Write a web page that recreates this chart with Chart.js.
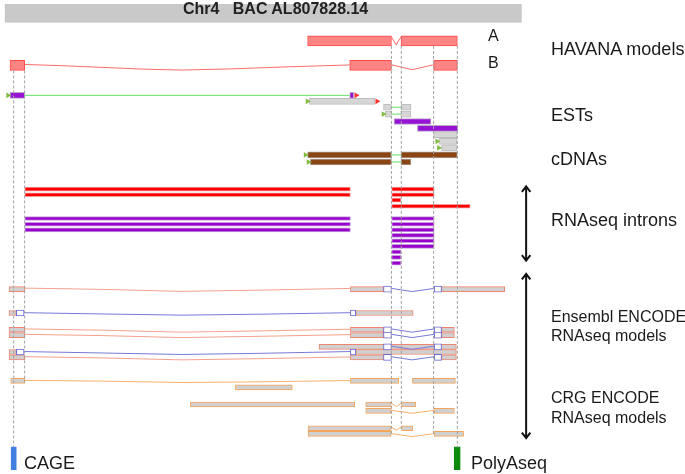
<!DOCTYPE html>
<html>
<head>
<meta charset="utf-8">
<script src="https://cdn.jsdelivr.net/npm/chart.js@4"></script>
<style>
html, body { margin: 0; padding: 0; background: #fff; }
#wrap { position: relative; width: 685px; height: 474px; overflow: hidden; }
#board { position: absolute; left: 0; top: 0; }
.lbl { position: absolute; font-family: "Liberation Sans", Arial, sans-serif; font-size: 18px; line-height: 18px; color: #1a1a1a; white-space: pre; }
.sm { font-size: 16px; line-height: 16px; }
</style>
</head>
<body>
<div id="wrap">
<canvas id="board" width="685" height="474"></canvas>
<div class="lbl" style="left:183px;top:1px;font-size:16px;line-height:16px;font-weight:bold;color:#222;">Chr4   BAC AL807828.14</div>
<div class="lbl" style="left:488px;top:28px;font-size:16px;line-height:16px;">A</div>
<div class="lbl" style="left:488px;top:55px;font-size:16px;line-height:16px;">B</div>
<div class="lbl" style="left:551px;top:40px;">HAVANA models</div>
<div class="lbl" style="left:551px;top:106px;">ESTs</div>
<div class="lbl" style="left:551px;top:150px;">cDNAs</div>
<div class="lbl" style="left:551px;top:211px;">RNAseq introns</div>
<div class="lbl sm" style="left:551px;top:309px;">Ensembl ENCODE</div>
<div class="lbl sm" style="left:551px;top:328px;">RNAseq models</div>
<div class="lbl sm" style="left:551px;top:390px;">CRG ENCODE</div>
<div class="lbl sm" style="left:551px;top:410px;">RNAseq models</div>
<div class="lbl" style="left:24px;top:454px;">CAGE</div>
<div class="lbl" style="left:471px;top:454px;">PolyAseq</div>
</div>
<script>
// positions along the BAC are x, track rows are y (row centre)
// boxes: [start, end, row]   paths: list of [pos, row] points

const headerBar = [[1, 523.6, 9.3]];

const dashX = [9.8, 20.9, 392, 402, 434.7, 458.7];
const dashTop = [67.6, 67.6, 42.6, 42.6, 42.6, 42.6];
const dashBottom = [451, 385, 439, 432.6, 439, 451];

// HAVANA models A and B
const havanaExons = [[307.2, 392, 37.5], [401.7, 458.7, 37.5],
    [6.1, 20.9, 62.5], [349.8, 392, 62.5], [434.7, 458.7, 62.5]];
const havanaIntrons = [
    [[392, 33.5], [396.8, 41.5], [401.7, 33.5]],
    [[20.9, 61.5], [60, 62.8], [100, 64.5], [140, 66.2], [180, 67.2], [230, 66], [290, 63.8], [349.8, 62]],
    [[392, 61.8], [413, 66.8], [434.7, 61.8]]
];

// ESTs and cDNAs
const estPurple = [[6.1, 20.9, 92.9], [349.8, 353.9, 92.9], [394.7, 432, 119.5], [418.3, 459.3, 126.5]];
const estGrey = [[309, 375, 99], [384, 392, 105], [401.7, 411.7, 105], [385.7, 392, 112], [401.7, 411.7, 112],
    [434.7, 458.3, 132.8], [440, 458.3, 139.7], [442.7, 458.3, 146.3]];
const cdnaBoxes = [[307.2, 392, 153.5], [401.7, 458.7, 153.5], [310, 392, 160.7], [401.7, 411.7, 160.7]];
const estLinks = [
    [[20.9, 92.9], [349.8, 92.9]],
    [[392, 105], [401.7, 105]],
    [[392, 112], [401.7, 112]],
    [[392, 153.5], [401.7, 153.5]],
    [[392, 160.7], [401.7, 160.7]]
];
const estStarts = [[4, 92.9], [307, 99], [383.8, 112], [438.3, 139.7], [440, 146.3], [305, 153.5], [308, 160.7]];
const estEnds = [[356.3, 92.9], [377.5, 99]];

// RNAseq introns
const redIntrons = [[21, 350.5, 188.3], [392.3, 435.3, 188.3], [21, 350.5, 194], [392.3, 435.3, 194],
    [392.3, 401.7, 199.5], [392.3, 471.7, 205.7]];
const purpleIntrons = [[21, 350.5, 218.2], [392.3, 435.3, 218.2], [21, 350.5, 224], [392.3, 435.3, 224],
    [21, 350.5, 229.7], [392.3, 435.3, 229.7], [392.3, 435.3, 235.3], [392.3, 435.3, 240.8],
    [392.3, 435.3, 246.5], [392.3, 401.7, 252.2], [392.3, 401.7, 257.8], [392.3, 401.7, 263.5]];

// Ensembl ENCODE RNAseq models
const ensExons = [[5.1, 21, 290], [350.5, 384, 290], [442.7, 506.7, 290],
    [5.1, 12.5, 314.3], [355.9, 414, 314.3],
    [5.1, 21, 331.3], [350.5, 384, 331.3], [442.7, 455.7, 331.3],
    [5.1, 21, 336.8], [350.5, 384, 336.8], [442.7, 455.7, 336.8],
    [318.7, 457.7, 348.8],
    [5.1, 12.5, 354], [355.9, 457.7, 354],
    [5.1, 21, 359.5], [350.5, 384, 359.5], [442.7, 457.7, 359.5]];
const ensCds = [[384, 392, 290], [435.3, 442.7, 290],
    [12.5, 20.3, 314.3], [350.5, 355.9, 314.3],
    [384, 392, 331.3], [435.3, 442.7, 331.3],
    [384, 392, 336.8], [435.3, 442.7, 336.8],
    [384, 392, 348.8], [435.3, 442.7, 348.8],
    [12.5, 20.3, 354], [350.5, 355.9, 354],
    [384, 392, 359.5], [435.3, 442.7, 359.5]];
const ensUtrIntrons = [
    [[21, 289], [100, 290.3], [180, 292.3], [260, 291], [350.5, 289.3]],
    [[21, 330.5], [100, 331.8], [180, 333.8], [260, 332.5], [350.5, 330.8]],
    [[21, 336], [100, 337.3], [180, 339.3], [260, 338], [350.5, 336.3]],
    [[21, 358.7], [100, 360], [180, 362], [260, 360.7], [350.5, 359]]
];
const ensCdsIntrons = [
    [[20.3, 314], [100, 315.3], [180, 316.5], [260, 315.5], [350.5, 314]],
    [[20.3, 353.5], [100, 355], [180, 356.5], [260, 355.3], [350.5, 353.5]],
    [[392, 289.3], [413, 292.5], [435.3, 289.3]],
    [[392, 330.5], [413, 333.8], [435.3, 330.5]],
    [[392, 336], [413, 339.3], [435.3, 336]],
    [[392, 348], [413, 351.3], [435.3, 348]],
    [[392, 358.8], [413, 362], [435.3, 358.8]]
];

// CRG ENCODE RNAseq models
const crgExons = [[6.8, 21, 383.3], [350.5, 399.3, 383.3], [413.3, 456.7, 383.3],
    [234.2, 291.7, 390],
    [188.6, 354.9, 407.4], [366, 391.7, 407.4], [402.3, 416.7, 407.4],
    [366, 391.7, 413.8], [435.3, 455.7, 413.8],
    [307.6, 391.7, 431.5], [402.3, 413.7, 431.5],
    [307.6, 391.7, 437.3], [435.3, 465, 437.3]];
const crgIntrons = [
    [[21, 382.8], [100, 383.6], [180, 385], [260, 384.3], [350.5, 383]],
    [[391.7, 406], [397, 409.3], [402.3, 406]],
    [[391.7, 413.3], [413, 416.3], [435.3, 413.3]],
    [[391.7, 430.3], [397, 433.5], [402.3, 430.3]],
    [[391.7, 437], [413, 440], [435.3, 437]]
];

// CAGE and PolyAseq peaks
const cagePeaks = [[7.3, 12.3, 462.4]];
const polyAPeaks = [[455.6, 461.4, 462.4]];

// section arrows
const arrowLines = [
    [[528.3, 185.5], [528.3, 261]],
    [[524, 191], [528.3, 185.5], [532.6, 191]],
    [[524, 255.5], [528.3, 261], [532.6, 255.5]],
    [[528.3, 274.5], [528.3, 441.5]],
    [[524, 280], [528.3, 274.5], [532.6, 280]],
    [[524, 436], [528.3, 441.5], [532.6, 436]]
];

function toBoxes(list) {
    return list.map(b => ({ x: [b[0], b[1]], y: b[2] }));
}

function toPaths(list) {
    let out = [];
    list.forEach(p => {
        p.forEach(pt => out.push({ x: pt[0], y: pt[1] }));
        out.push({ x: p[p.length - 1][0], y: null });
    });
    return out;
}

function toPoints(list) {
    return list.map(p => ({ x: p[0], y: p[1] }));
}

function boxSet(list, fill, edge, thick, order) {
    return {
        type: 'bar', indexAxis: 'y', grouped: false,
        data: toBoxes(list),
        backgroundColor: fill, borderColor: edge || fill,
        borderWidth: edge ? 1 : 0, borderSkipped: false,
        barThickness: thick, order: order
    };
}

function lineSet(list, colour, width, order, dash) {
    return {
        type: 'line', data: toPaths(list),
        borderColor: colour, borderWidth: width, borderDash: dash || [],
        pointRadius: 0, fill: false, tension: 0, spanGaps: false, order: order
    };
}

function markSet(list, colour, order) {
    return {
        type: 'line', data: toPoints(list), showLine: false,
        pointStyle: 'triangle', pointRotation: 90, pointRadius: 3.3,
        backgroundColor: colour, borderColor: colour, borderWidth: 0, order: order
    };
}

let dashPaths = dashX.map((x, i) => [[x, dashTop[i]], [x, dashBottom[i]]]);

const datasets = [
    lineSet(dashPaths, '#a0a0a0', 1, 0, [3, 2]),
    markSet(estStarts, '#82bd42', 1),
    markSet(estEnds, '#ff3030', 1),
    boxSet(ensCds, '#ffffff', '#6a6ad4', 6, 2),
    lineSet(havanaIntrons, '#ff6a6a', 1, 3),
    lineSet(estLinks, '#66e066', 1, 3),
    lineSet(ensUtrIntrons, '#f3a08c', 1, 3),
    lineSet(ensCdsIntrons, '#7878d8', 1, 3),
    lineSet(crgIntrons, '#f6b06c', 1, 3),
    lineSet(arrowLines, '#111111', 2, 3),
    boxSet(havanaExons, '#ff8585', '#ff4a4a', 10, 4),
    boxSet(estPurple, '#9612d4', '#b9a6c8', 6, 4),
    boxSet(estGrey, '#d6d6d6', '#bdbdbd', 6, 4),
    boxSet(cdnaBoxes, '#8b4513', '#a89a90', 6, 4),
    boxSet(redIntrons, '#ff0000', '#f59a9a', 4, 4),
    boxSet(purpleIntrons, '#9900cc', '#c59ade', 4, 4),
    boxSet(ensExons, '#d0d0d0', '#f0866e', 5, 4),
    boxSet(crgExons, '#d0d0d0', '#f5a55a', 5, 4),
    boxSet(cagePeaks, '#3f7fe0', null, 23, 4),
    boxSet(polyAPeaks, '#0b8a0b', null, 23, 4),
    boxSet(headerBar, '#c9c9c9', '#c2c2c2', 18.6, 5)
];

const config = {
    type: 'bar',
    data: { datasets: datasets },
    options: {
        responsive: false,
        animation: false,
        layout: { padding: 0 },
        plugins: { legend: { display: false }, tooltip: { enabled: false } },
        events: [],
        scales: {
            x: { type: 'linear', min: 0, max: 685, offset: false, display: false },
            y: { type: 'linear', min: 0, max: 474, reverse: true, offset: false, display: false }
        }
    }
};

const board = document.getElementById('board');
new Chart(board.getContext('2d'), config);
</script>
</body>
</html>
